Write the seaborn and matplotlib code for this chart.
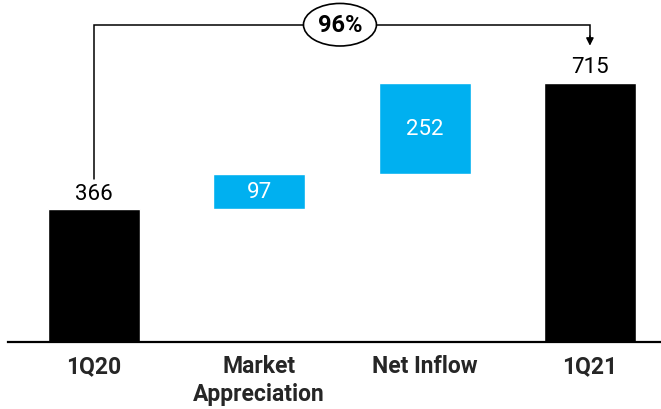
import matplotlib.pyplot as plt
import seaborn as sns

# waterfall data
categories = ['1Q20', 'Market\nAppreciation', 'Net Inflow', '1Q21']
values = [366, 97, 252, 715]
bases = [0, 366, 463, 0]
kinds = ['total', 'delta', 'delta', 'total']
growth_label = '96%'

sns.set_theme(style='white')
plt.rcParams['font.family'] = ['Roboto', 'DejaVu Sans']

colors = {'total': '#000000', 'delta': '#00B0F0'}
tops = [b + v for b, v in zip(bases, values)]

fig = plt.figure(figsize=(6.61, 4.10), dpi=100)
# axes placed so that the bottom spine is the baseline
ax = fig.add_axes([8 / 661, 67 / 410, 653 / 661, 343 / 410])

sns.barplot(x=categories, y=tops, order=categories,
            palette=[colors[k] for k in kinds], hue=categories, legend=False,
            width=0.557, saturation=1, ax=ax)
# hide the lower part of floating bars
sns.barplot(x=categories, y=bases, order=categories, color='white',
            width=0.557, saturation=1, ax=ax)

ax.set_xlim(-0.520, 3.430)
ax.set_ylim(0, 947)

for i, (b, v, k) in enumerate(zip(bases, values, kinds)):
    if k == 'total':
        ax.text(i, b + v + 16, f'{v}', ha='center', va='bottom',
                fontsize=16, color='black')
    else:
        ax.text(i, b + v / 2, f'{v}', ha='center', va='center',
                fontsize=16, color='white')

# bracket with growth label
y_br = 876
ax.plot([0, 0, 3, 3], [450, y_br, y_br, 840], color='black', lw=1.1,
        solid_joinstyle='miter', clip_on=False)
ax.annotate('', xy=(3, 818), xytext=(3, 845),
            arrowprops=dict(arrowstyle='-|>', color='black', lw=1.1,
                            mutation_scale=11, shrinkA=0, shrinkB=0),
            annotation_clip=False)
ax.text(1.488, y_br, growth_label, ha='center', va='center', fontsize=17,
        fontweight='bold', color='black',
        bbox=dict(boxstyle='ellipse,pad=0.15', fc='white', ec='black', lw=1.2))

ax.set_xlabel('')
ax.set_ylabel('')
ax.set_yticks([])
ax.tick_params(axis='x', length=0, pad=9)
for lbl in ax.get_xticklabels():
    lbl.set_fontweight('bold')
    lbl.set_fontsize(16.5)
    lbl.set_verticalalignment('top')
    lbl.set_linespacing(1.25)
for side in ['top', 'left', 'right']:
    ax.spines[side].set_visible(False)
ax.spines['bottom'].set_color('black')
ax.spines['bottom'].set_linewidth(1.6)

fig.savefig('out.png', dpi=100, facecolor='white')
